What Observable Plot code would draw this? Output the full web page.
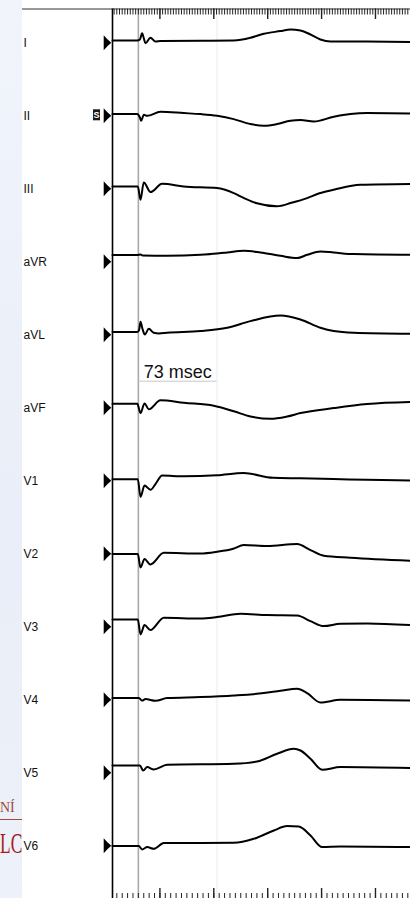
<!DOCTYPE html>
<html>
<head>
<meta charset="utf-8">
<script src="https://cdn.jsdelivr.net/npm/d3@7"></script>
<script src="https://cdn.jsdelivr.net/npm/@observablehq/plot@0.6"></script>
<style>
  html, body { margin: 0; padding: 0; background: #fff; }
  #wrap { position: relative; width: 410px; height: 898px; overflow: hidden;
          background: linear-gradient(180deg, #f1f4fb 0%, #e9eef8 60%, #edf1f9 100%);
          font-family: "Liberation Sans", Arial, sans-serif; }
  #logo { position: absolute; left: 0; top: 790px; width: 22px; height: 80px; overflow: hidden; }
  #logo .small { position: absolute; left: 0; top: 10px; font-family: "Liberation Serif", serif;
                 font-size: 14px; color: #a2493d; white-space: nowrap; }
  #logo .rule { position: absolute; left: 0; top: 29px; width: 22px; height: 1px; background: #a2493d; }
  #logo .big { position: absolute; left: 0; top: 38px; font-family: "Liberation Serif", serif;
               font-size: 30px; color: #a61c1c; white-space: nowrap; line-height: 30px;
               transform: scaleX(0.58); transform-origin: 0 0; }
  #panel { position: absolute; left: 22px; top: 0; width: 388px; height: 898px; background: #fff; }
  #chart { position: absolute; left: 0; top: 0; }
</style>
</head>
<body>
<div id="wrap">
  <div id="logo"><div class="small">NÍ</div><div class="rule"></div><div class="big">LC</div></div>
  <div id="panel"></div>
  <div id="chart"></div>
</div>
<script>
// ---- data (time in ms, amplitude in display units, + = up) ----
const leads = ["I","II","III","aVR","aVL","aVF","V1","V2","V3","V4","V5","V6"];

const wave_I   = [[6,2.3],[29,2.3],[31.4,3.3],[33.5,9.5],[35.1,4.3],[36.6,-0.5],[41.2,5],[45.9,1.3],[50.5,1.7],[87.6,2],[118.5,2.3],[134,5],[146.4,9],[161.8,11.7],[171.1,13.3],[180.4,12.3],[189.7,8.3],[198.9,3.3],[208.2,1.3],[242.2,1.2],[282.5,0.7]];
const wave_II  = [[6,1.7],[29,1.7],[31.4,-1.7],[32.6,-5],[35.1,1],[38.2,0],[50.5,4],[72.2,2.7],[87.6,1.7],[103.1,0],[118.5,-3.3],[134,-8.3],[146.4,-10],[158.7,-8.3],[171.1,-5],[180.4,-4.3],[192.8,-5.7],[211.3,-1],[226.8,1.7],[242.2,2.7],[282.5,2.3]];
const wave_III = [[6,2.3],[29.5,2.3],[32,-11],[35,6.3],[41.3,-3.3],[52,5],[72,2.3],[103,0.7],[118.5,-4.3],[128,-9.3],[140,-14.5],[158.7,-17.5],[172,-14],[186.6,-9.3],[198,-4.5],[211.3,-1],[236,4],[282.5,4.8]];
const wave_aVR = [[6,6.7],[29,6.7],[32,7.3],[34,6.3],[56.7,6],[87.6,7],[112.4,9.3],[127.8,11],[143.3,9.3],[161.8,6],[177.3,3.7],[186.6,7],[198.9,10.3],[211.3,9.3],[229.9,7.7],[282.5,7]];
const wave_aVL = [[6,2.7],[29,2.7],[30.7,5],[32,13],[33.8,6],[36,0.3],[39.7,6],[44.3,2],[49,1.3],[56.7,2],[87.6,3.7],[112.4,7],[134,13.7],[161.8,19.3],[180.4,15.3],[198.9,7],[211.3,3.7],[229.9,2],[282.5,1]];
const wave_aVF = [[6,4],[29,4],[32,-5.3],[35.7,4.3],[39.7,-1.5],[50.5,7.5],[72.2,5],[100,2],[118.5,-3.5],[134,-8.7],[152.6,-11],[168,-8.7],[180.4,-5.3],[211.3,-0.3],[242.2,3.7],[282.5,5.7]];
const wave_V1  = [[6,1.5],[29.5,1.5],[32,-16],[35.7,-4.7],[41.2,-9],[46,-3],[52.1,5.3],[72,4.5],[103,5.5],[127.8,7.7],[155,3],[180,2.5],[211,1.8],[242,1],[282.5,0.2]];
const wave_V2  = [[6,-0.3],[29.5,-0.3],[32,-13.7],[35.7,-5.3],[41.2,-10.7],[53.6,1],[87.6,0.3],[103.1,2],[118,5],[127.8,8.7],[149.5,7.7],[177.3,9.7],[189.7,3.7],[202,-2],[226.8,-4],[282.5,-7]];
const wave_V3  = [[6,7.3],[29.5,7.3],[32,-7.7],[35.7,1.7],[41.2,-3.3],[53.6,9],[87.6,8.3],[103.1,9.7],[124.7,13],[149.5,11.7],[177.3,11.3],[189.7,5.7],[202,0.7],[217.5,3],[242.2,3.3],[282.5,1.7]];
const wave_V4  = [[6,1.7],[30.5,1.7],[33.5,-0.7],[36.6,0.7],[45.9,-1],[56.7,1.7],[87.6,2.7],[118.5,4.3],[146.4,6.7],[161.8,9],[177.3,11],[186.6,6.7],[198.9,-2.7],[217.5,0],[282.5,-0.7]];
const wave_V5  = [[6,7.3],[31.4,7.3],[34.4,2.3],[38.2,5.7],[44.3,3.3],[56.7,8],[118.5,9],[140.2,11.3],[158.7,19],[174.2,24],[180.4,22.3],[189.7,14],[200.5,3],[217.5,5.7],[282.5,4.7]];
const wave_V6  = [[6,-0.3],[30.4,-0.3],[33.5,-3.7],[38.2,-1.3],[44.3,-3],[53.6,2.7],[87.6,2.7],[118.5,3],[137.1,7],[155.7,15.3],[168,19.7],[178.8,19.3],[189.7,10.3],[200.5,-1.3],[217.5,-0.7],[282.5,-1.3]];

const cursors = [30, 103];               // measurement cursors (ms)
const measureLabel = `${cursors[1] - cursors[0]} msec`;
const xStart = 6, xEnd = 282.5;          // visible time window (ms)

// ---- layout ----
const W = 410, H = 898, ML = 112;
const firstBase = 42.3, spacing = 73;    // px between lead baselines
const pxPerMs = (W - ML) / (xEnd - xStart);
const panelLeftT = xStart - (ML - 22) / pxPerMs;
const base = i => -(firstBase + i * spacing);

const waves = {I:wave_I, II:wave_II, III:wave_III, aVR:wave_aVR, aVL:wave_aVL, aVF:wave_aVF,
               V1:wave_V1, V2:wave_V2, V3:wave_V3, V4:wave_V4, V5:wave_V5, V6:wave_V6};
const rows = leads.flatMap((lead, i) => waves[lead].map(([t, a]) => ({lead, t, y: base(i) + a})));
const leadRows = leads.map((lead, i) => ({lead, y: base(i)}));

const topMinor = d3.range(7.5, xEnd + 0.01, 2.5);
const botMinor = d3.range(10, xEnd + 0.01, 5);
const majors = d3.range(50, xEnd, 50);

const markerSymbol = {draw(ctx) { ctx.moveTo(-8.8, -7.5); ctx.quadraticCurveTo(-5, -3, -1.2, 0); ctx.quadraticCurveTo(-5, 3, -8.8, 7.5); ctx.closePath(); }};
const boxSymbol = {draw(ctx) { ctx.moveTo(-19.5, -6.5); ctx.lineTo(-12.5, -6.5); ctx.lineTo(-12.5, 4.5); ctx.lineTo(-19.5, 4.5); ctx.closePath(); }};

const chart = Plot.plot({
  width: W, height: H,
  marginLeft: ML, marginRight: 0, marginTop: 0, marginBottom: 0,
  x: {domain: [xStart, xEnd], axis: null},
  y: {domain: [-H, 0], axis: null},
  style: {background: "transparent", overflow: "visible", fontFamily: "'Liberation Sans', Arial, sans-serif"},
  marks: [
    Plot.ruleX([cursors[1]], {y1: -9, y2: -H, stroke: "#ebebeb", strokeWidth: 1}),
    Plot.ruleX([cursors[0]], {y1: -9, y2: -H, stroke: "#a9a9a9", strokeWidth: 1.6}),
    Plot.ruleY([-8.5], {x1: panelLeftT, x2: xEnd, stroke: "#333", strokeWidth: 1}),
    Plot.ruleX([xStart], {y1: -8.5, y2: -H, stroke: "#000", strokeWidth: 1.6}),
    Plot.ruleX(topMinor, {y1: -8.5, y2: -14.5, stroke: "#222", strokeWidth: 1}),
    Plot.ruleX(majors, {y1: -8.5, y2: -19, stroke: "#222", strokeWidth: 1.4}),
    Plot.ruleX(botMinor, {y1: -H, y2: -H + 5, stroke: "#222", strokeWidth: 1}),
    Plot.ruleX(majors, {y1: -H, y2: -H + 10, stroke: "#222", strokeWidth: 1.4}),
    Plot.ruleY([-380.7], {x1: cursors[0], x2: cursors[1], stroke: "#c9c9c9", strokeWidth: 1}),
    Plot.text([measureLabel], {x: (cursors[0] + cursors[1]) / 2, y: -377, text: d => d, lineAnchor: "bottom", fontSize: 18, fill: "#111"}),
    Plot.text(leadRows, {x: () => xStart, y: "y", text: "lead", dx: -(ML - 23), textAnchor: "start", fontSize: 12, fill: "#111"}),
    Plot.dot(leadRows, {x: () => xStart, y: "y", symbol: markerSymbol, fill: "#000", stroke: "none", r: 5}),
    Plot.dot(leadRows.filter(d => d.lead === "II"), {x: () => xStart, y: "y", symbol: boxSymbol, fill: "#1a1a1a", stroke: "none", r: 5}),
    Plot.text(leadRows.filter(d => d.lead === "II"), {x: () => xStart, y: "y", text: () => "S", dx: -16, dy: -1, fill: "#fff", fontSize: 9, fontWeight: "bold"}),
    Plot.line(rows, {x: "t", y: "y", z: "lead", curve: "monotone-x", stroke: "#000", strokeWidth: 2})
  ]
});
document.getElementById("chart").append(chart);
</script>
</body>
</html>
